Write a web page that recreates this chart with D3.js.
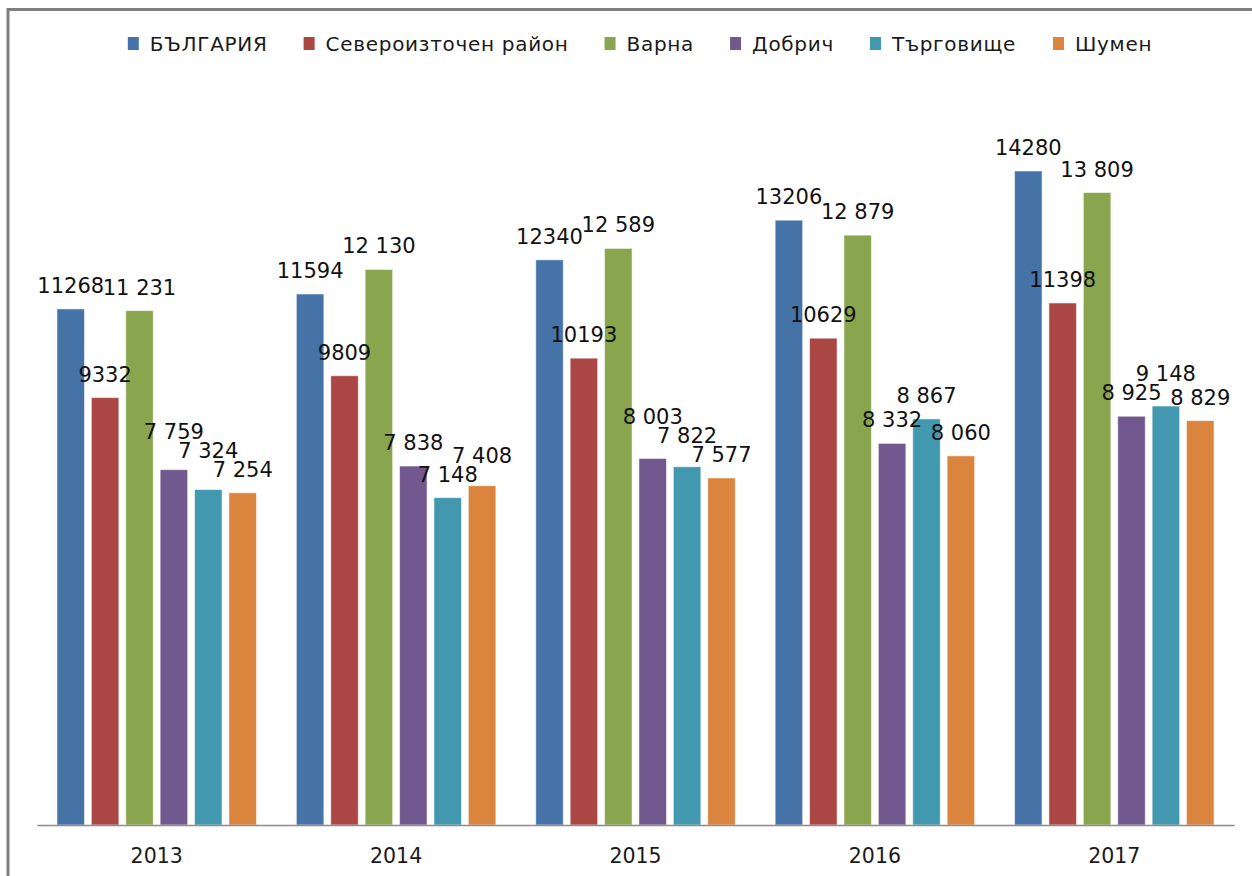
<!DOCTYPE html>
<html>
<head>
<meta charset="utf-8">
<script src="https://cdn.jsdelivr.net/npm/d3@7"></script>
<style>
  html, body { margin: 0; padding: 0; background: #fff; }
  svg { display: block; font-family: "DejaVu Sans", Verdana, sans-serif; }
</style>
</head>
<body>
<div class="chart"></div>
<script>
/* global d3 */
const years = ["2013", "2014", "2015", "2016", "2017"];
const seriesNames = ["БЪЛГАРИЯ", "Североизточен район", "Варна", "Добрич", "Търговище", "Шумен"];
const bulgaria    = [11268, 11594, 12340, 13206, 14280];
const northEast   = [9332, 9809, 10193, 10629, 11398];
const varna       = [11231, 12130, 12589, 12879, 13809];
const dobrich     = [7759, 7838, 8003, 8332, 8925];
const targovishte = [7324, 7148, 7822, 8867, 9148];
const shumen      = [7254, 7408, 7577, 8060, 8829];
const colors = ["#4572A7", "#AA4643", "#89A54E", "#71588F", "#4198AF", "#DB843D"];
// first two series are printed without a thousands separator in the source
const spacedLabels = [false, false, true, true, true, true];

const allSeries = [bulgaria, northEast, varna, dobrich, targovishte, shumen];

const width = 1252, height = 876;
const plotLeft = 37, plotRight = 1234, baseY = 825, topY = 92.2;

const svg = d3.select(".chart").append("svg")
    .attr("width", width)
    .attr("height", height);

// outer frame (only top and left edges are inside the picture)
svg.append("path")
    .attr("d", `M8,${height} V9.5 H${width}`)
    .attr("fill", "none")
    .attr("stroke", "#7f7f7f")
    .attr("stroke-width", 3);

const x0 = d3.scaleBand().domain(years).range([plotLeft, plotRight]);
const x1 = d3.scaleBand().domain(d3.range(seriesNames.length))
    .range([0, x0.bandwidth()])
    .paddingInner(0.2)
    .paddingOuter(0.58);
const y = d3.scaleLinear().domain([0, 16000]).range([baseY, topY]);

const spaced = d3.formatLocale({decimal: ".", thousands: " ", grouping: [3], currency: ["", ""]}).format(",d");
const plain = d3.format("d");

// bars
const groups = svg.append("g").selectAll("g")
    .data(years)
    .join("g")
    .attr("transform", d => `translate(${x0(d)},0)`);

groups.selectAll("rect")
    .data((yr, yi) => allSeries.map((s, si) => ({si, yi, v: s[yi]})))
    .join("rect")
    .attr("x", d => x1(d.si))
    .attr("width", x1.bandwidth())
    .attr("y", d => y(d.v))
    .attr("height", d => baseY - y(d.v))
    .attr("fill", d => colors[d.si])
    .attr("stroke", "#ffffff")
    .attr("stroke-opacity", 0.55)
    .attr("stroke-width", 1);

// axis
const xAxis = svg.append("g")
    .attr("transform", `translate(0,${baseY})`)
    .call(d3.axisBottom(x0).tickSize(0).tickPadding(23));
xAxis.select(".domain").attr("stroke", "#8c8c8c").attr("stroke-width", 1.5);
xAxis.selectAll("text")
    .attr("font-size", 20.5)
    .attr("font-family", "DejaVu Sans, Verdana, sans-serif")
    .attr("fill", "#1a1a1a");

// data labels, nudged upward when they collide (lowest bars placed first)
const labelLayer = svg.append("g");
const capH = 15, gap = 16;
years.forEach((yr, yi) => {
  const items = allSeries.map((s, si) => ({si, v: s[yi]}))
      .sort((a, b) => a.v - b.v);
  const placed = [];
  items.forEach(d => {
    const cx = x0(yr) + x1(d.si) + x1.bandwidth() / 2;
    const t = labelLayer.append("text")
        .attr("x", cx)
        .attr("text-anchor", "middle")
        .attr("font-size", 21)
        .attr("fill", "#111")
        .text(spacedLabels[d.si] ? spaced(d.v) : plain(d.v));
    const w = t.node().getComputedTextLength();
    const box = {x0: cx - w / 2, x1: cx + w / 2, base: y(d.v) - gap};
    let moved = true;
    while (moved) {
      moved = false;
      for (const p of placed) {
        const hOver = Math.min(box.x1, p.x1) - Math.max(box.x0, p.x0);
        const vOver = Math.min(box.base, p.base) - Math.max(box.base - capH, p.base - capH);
        if (hOver > 2 && vOver > -2) {
          box.base = p.base - capH - 4;
          moved = true;
        }
      }
    }
    placed.push(box);
    t.attr("y", box.base);
  });
});

// legend
const legend = svg.append("g").attr("transform", "translate(0,44)");
let lx = 0;
const items = legend.selectAll("g")
    .data(seriesNames)
    .join("g");
items.append("rect")
    .attr("y", -7)
    .attr("width", 11)
    .attr("height", 13)
    .attr("fill", (d, i) => colors[i]);
items.append("text")
    .attr("x", 22)
    .attr("y", 7)
    .attr("font-size", 20)
    .attr("letter-spacing", 0.7)
    .attr("fill", "#1a1a1a")
    .text(d => d);
items.each(function() {
  d3.select(this).attr("transform", `translate(${lx},0)`);
  lx += 22 + this.querySelector("text").getBBox().width + 36;
});
const legendWidth = lx - 36;
legend.attr("transform", `translate(${640 - legendWidth / 2},44)`);
</script>
</body>
</html>
